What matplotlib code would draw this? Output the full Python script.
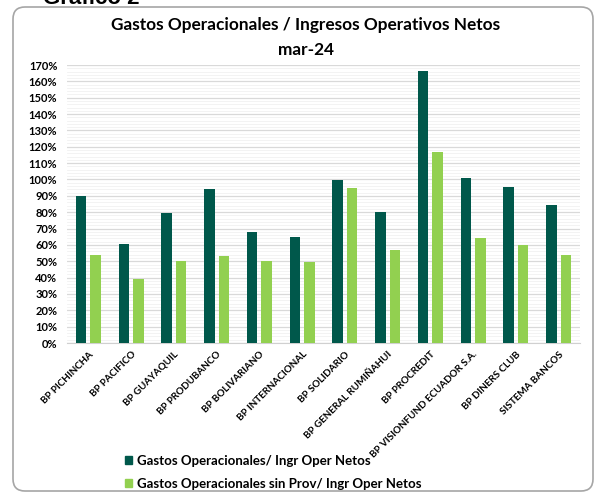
import matplotlib
matplotlib.use("Agg")
import matplotlib.pyplot as plt
import numpy as np
from matplotlib.patches import FancyBboxPatch, Patch
from matplotlib.transforms import IdentityTransform
from matplotlib.ticker import MultipleLocator, FuncFormatter

categories = ["BP PICHINCHA", "BP PACIFICO", "BP GUAYAQUIL", "BP PRODUBANCO",
              "BP BOLIVARIANO", "BP INTERNACIONAL", "BP SOLIDARIO",
              "BP GENERAL RUMIÑAHUI", "BP PROCREDIT", "BP VISIONFUND ECUADOR S.A.",
              "BP DINERS CLUB", "SISTEMA BANCOS"]
gastos_oper = [90.1, 60.4, 79.7, 94.0, 67.7, 64.6, 99.7, 80.3, 166.5, 100.9, 95.2, 84.2]
gastos_sin_prov = [54.0, 39.1, 50.1, 53.2, 50.1, 49.7, 94.6, 57.1, 116.8, 64.0, 59.8, 54.0]
series_names = ["Gastos Operacionales/ Ingr Oper Netos",
                "Gastos Operacionales sin Prov/ Ingr Oper Netos"]

DARK = "#00584B"
LIGHT = "#92D050"
FONT = ["Lato", "DejaVu Sans"]
plt.rcParams["font.family"] = FONT

W, H = 595, 494
fig = plt.figure(figsize=(W / 100, H / 100), dpi=100)

# outer rounded frame
box = FancyBboxPatch((13, H - 491), 580, 484, boxstyle="round,pad=0,rounding_size=12",
                     transform=IdentityTransform(), facecolor="none",
                     edgecolor="#a6a6a6", linewidth=1.2, zorder=-1)
fig.patches.append(box)

fig.text(43 / W, 1 - 3.5 / H, "Gráfico 2", fontsize=16, fontweight="bold",
         family="Liberation Sans", ha="left", va="baseline", color="black")

ax = fig.add_axes([67 / W, (H - 343) / H, (580 - 67) / W, (343 - 65) / H])
ax.set_facecolor("none")
x = np.arange(len(categories))
bw = 0.25
off = 0.17
ax.bar(x - off, gastos_oper, width=bw, color=DARK, label=series_names[0], zorder=3)
ax.bar(x + off, gastos_sin_prov, width=bw, color=LIGHT, label=series_names[1], zorder=3)

ax.set_xlim(-0.5, len(categories) - 0.5)
ax.set_ylim(0, 170)
ax.yaxis.set_major_locator(MultipleLocator(10))
ax.yaxis.set_minor_locator(MultipleLocator(2))
ax.yaxis.set_major_formatter(FuncFormatter(lambda v, p: f"{v:.0f}%"))
ax.grid(axis="y", which="major", color="#d9d9d9", linewidth=0.9, zorder=0)
ax.grid(axis="y", which="minor", color="#f1f1f1", linewidth=0.6, zorder=0)
for s in ["top", "right", "left"]:
    ax.spines[s].set_visible(False)
ax.spines["bottom"].set_color("#d0d0d0")
ax.tick_params(axis="both", which="both", length=0)
ax.tick_params(axis="y", labelsize=8, pad=7)
for lab in ax.get_yticklabels():
    lab.set_fontweight("bold")
ax.set_xticks(x)
ax.set_xticklabels(categories, rotation=45, ha="right", va="top",
                   rotation_mode="anchor", fontsize=7.1, fontweight="bold")
ax.tick_params(axis="x", pad=5)

fig.text(306 / W, 1 - 25 / H, "Gastos Operacionales / Ingresos Operativos Netos",
         fontsize=12.4, fontweight="bold", ha="center", va="center")
fig.text(306 / W, 1 - 50 / H, "mar-24",
         fontsize=12.4, fontweight="bold", ha="center", va="center")

handles = [Patch(color=DARK), Patch(color=LIGHT)]
fig.legend(handles, series_names, loc="upper left",
           bbox_to_anchor=(125 / W, 1 - 455 / H), frameon=False,
           handlelength=0.55, handleheight=0.55, handletextpad=0.35,
           labelspacing=0.8, borderpad=0, borderaxespad=0,
           prop={"weight": "bold", "size": 9.5, "family": FONT})

fig.savefig("out.png", dpi=100)
